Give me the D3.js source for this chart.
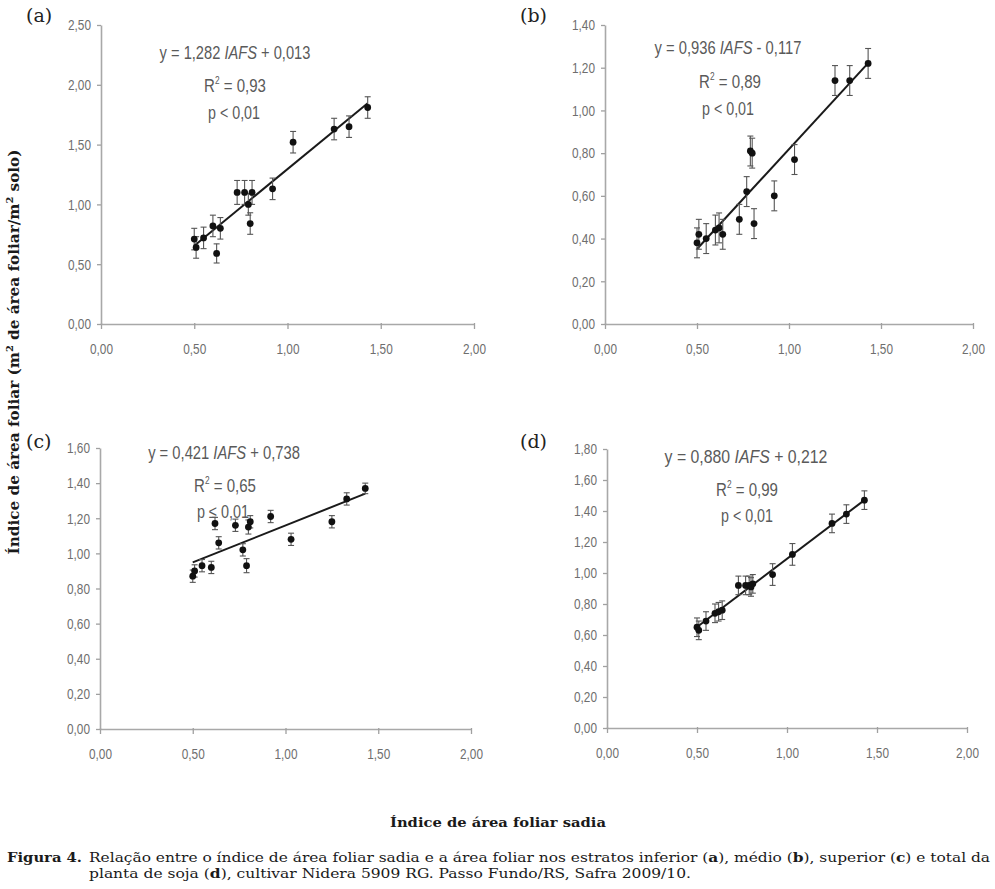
<!DOCTYPE html>
<html>
<head>
<meta charset="utf-8">
<script src="https://cdn.jsdelivr.net/npm/d3@7"></script>
<style>
  body { margin: 0; background: #fff; }
  svg { display: block; }
</style>
</head>
<body>
<svg id="chart" width="995" height="889"></svg>
<script>
// ---------- data ----------
const iafs = [0.50, 0.51, 0.55, 0.60, 0.62, 0.64, 0.73, 0.77, 0.79, 0.80, 0.81, 0.92, 1.03, 1.25, 1.33, 1.43];

const yA = [0.71, 0.64, 0.72, 0.82, 0.59, 0.80, 1.10, 1.10, 1.00, 0.84, 1.10, 1.13, 1.52, 1.63, 1.65, 1.81];
const errA = [0.09, 0.09, 0.09, 0.09, 0.08, 0.09, 0.10, 0.10, 0.09, 0.09, 0.10, 0.09, 0.09, 0.09, 0.09, 0.09];

const yB = [0.38, 0.42, 0.40, 0.44, 0.45, 0.42, 0.49, 0.62, 0.81, 0.80, 0.47, 0.60, 0.77, 1.14, 1.14, 1.22];
const errB = [0.07, 0.07, 0.07, 0.07, 0.07, 0.07, 0.07, 0.07, 0.07, 0.07, 0.07, 0.07, 0.07, 0.07, 0.07, 0.07];

const yC = [0.87, 0.90, 0.93, 0.92, 1.17, 1.06, 1.16, 1.02, 0.93, 1.15, 1.18, 1.21, 1.08, 1.18, 1.31, 1.37];
const errC = [0.035, 0.035, 0.035, 0.035, 0.035, 0.035, 0.035, 0.035, 0.04, 0.04, 0.035, 0.035, 0.035, 0.035, 0.035, 0.03];

const yD = [0.65, 0.63, 0.69, 0.74, 0.75, 0.76, 0.92, 0.92, 0.92, 0.91, 0.93, 0.99, 1.12, 1.32, 1.38, 1.47];
const errD = [0.06, 0.06, 0.06, 0.06, 0.06, 0.06, 0.06, 0.06, 0.06, 0.06, 0.06, 0.07, 0.07, 0.06, 0.06, 0.06];

const xTicks = [0, 0.5, 1.0, 1.5, 2.0];
const yTicksA = [0, 0.5, 1.0, 1.5, 2.0, 2.5];
const yTicksB = [0, 0.2, 0.4, 0.6, 0.8, 1.0, 1.2, 1.4];
const yTicksC = [0, 0.2, 0.4, 0.6, 0.8, 1.0, 1.2, 1.4, 1.6];
const yTicksD = [0, 0.2, 0.4, 0.6, 0.8, 1.0, 1.2, 1.4, 1.6, 1.8];

const slopes = [1.282, 0.936, 0.421, 0.880];
const intercepts = [0.013, -0.117, 0.738, 0.212];
const eqTexts = ["y = 1,282 ", "y = 0,936 ", "y = 0,421 ", "y = 0,880 "];
const eqTails = [" + 0,013", " - 0,117", " + 0,738", " + 0,212"];
const r2Texts = [" = 0,93", " = 0,89", " = 0,65", " = 0,99"];
const pTexts = ["p < 0,01", "p < 0,01", "p ≤ 0,01", "p < 0,01"];
const panelLabels = ["(a)", "(b)", "(c)", "(d)"];

// ---------- layout ----------
const panels = [
  { x0: 101, x1: 474, y0: 324, y1: 25, ymax: 2.5, yTicks: yTicksA, ys: yA, err: errA,
    lab: [26, 22], eq: [235, 59], eqW: 151, r2: [235, 92], p: [234, 119] },
  { x0: 605, x1: 973, y0: 324, y1: 25, ymax: 1.4, yTicks: yTicksB, ys: yB, err: errB,
    lab: [520, 22], eq: [728, 54], eqW: 147, r2: [730, 88], p: [728, 115] },
  { x0: 100, x1: 471, y0: 729, y1: 448, ymax: 1.6, yTicks: yTicksC, ys: yC, err: errC,
    lab: [26, 448], eq: [224, 459], eqW: 152, r2: [225, 492], p: [223, 518] },
  { x0: 607, x1: 967, y0: 728, y1: 449, ymax: 1.8, yTicks: yTicksD, ys: yD, err: errD,
    lab: [520, 448], eq: [746, 463], eqW: 163, r2: [747, 496], p: [747, 522] }
];

const svg = d3.select("#chart");
const fmt = d => d3.format(".2f")(d).replace(".", ",");
const sans = '"Liberation Sans", Arial, sans-serif';
const serif = '"DejaVu Serif", "Liberation Serif", serif';
const textGrey = "#5a5a5a";

// squeeze a text horizontally to a target width, centred on cx
function squeeze(t, cx, cy, w) {
  const natural = t.node().getComputedTextLength();
  t.attr("text-anchor", "middle")
   .attr("transform", `translate(${cx},${cy}) scale(${w / natural},1)`);
}

panels.forEach((p, i) => {
  const x = d3.scaleLinear().domain([0, 2]).range([p.x0, p.x1]);
  const y = d3.scaleLinear().domain([0, p.ymax]).range([p.y0, p.y1]);
  const g = svg.append("g");

  // axes
  const ax = g.append("g").attr("transform", `translate(0,${p.y0})`)
    .call(d3.axisBottom(x).tickValues(xTicks).tickFormat(fmt).tickSizeInner(5).tickSizeOuter(0).tickPadding(14));
  const ay = g.append("g").attr("transform", `translate(${p.x0},0)`)
    .call(d3.axisLeft(y).tickValues(p.yTicks).tickFormat(fmt).tickSizeInner(4).tickSizeOuter(0).tickPadding(6));
  [ax, ay].forEach(a => {
    a.select(".domain").attr("stroke", "#a8a8a8").attr("stroke-width", 1.6);
    a.selectAll(".tick line").attr("stroke", "#a0a0a0").attr("stroke-width", 1.3);
    a.selectAll(".tick text").attr("font-family", sans).attr("fill", "#6e6e6e").attr("font-size", 15)
      .attr("textLength", 23).attr("lengthAdjust", "spacingAndGlyphs");
  });
  ax.selectAll(".tick line").attr("y1", -1);

  // regression line
  const xmin = d3.min(iafs), xmax = d3.max(iafs);
  g.append("line")
    .attr("x1", x(xmin)).attr("y1", y(slopes[i] * xmin + intercepts[i]))
    .attr("x2", x(xmax)).attr("y2", y(slopes[i] * xmax + intercepts[i]))
    .attr("stroke", "#1a1a1a").attr("stroke-width", 2);

  // error bars
  const eb = g.append("g").attr("stroke", "#555").attr("stroke-width", 1.1);
  iafs.forEach((xv, k) => {
    const yv = p.ys[k], e = p.err[k];
    eb.append("line").attr("x1", x(xv)).attr("x2", x(xv)).attr("y1", y(yv - e)).attr("y2", y(yv + e));
    eb.append("line").attr("x1", x(xv) - 3).attr("x2", x(xv) + 3).attr("y1", y(yv - e)).attr("y2", y(yv - e));
    eb.append("line").attr("x1", x(xv) - 3).attr("x2", x(xv) + 3).attr("y1", y(yv + e)).attr("y2", y(yv + e));
  });

  // points
  g.selectAll("circle.pt").data(iafs).join("circle")
    .attr("cx", d => x(d)).attr("cy", (d, k) => y(p.ys[k]))
    .attr("r", 3.4).attr("fill", "#111");

  // panel label
  g.append("text").attr("x", p.lab[0]).attr("y", p.lab[1])
    .attr("font-family", serif).attr("font-size", 19).attr("fill", "#222")
    .text(panelLabels[i]);

  // equation
  const eq = g.append("text")
    .attr("font-family", sans).attr("font-size", 18).attr("fill", textGrey);
  eq.append("tspan").text(eqTexts[i]);
  eq.append("tspan").attr("font-style", "italic").text("IAFS");
  eq.append("tspan").text(eqTails[i]);
  squeeze(eq, p.eq[0], p.eq[1], p.eqW);

  const r2 = g.append("text")
    .attr("font-family", sans).attr("font-size", 18).attr("fill", textGrey);
  r2.append("tspan").text("R");
  r2.append("tspan").attr("font-size", 10).attr("dy", -8).text("2");
  r2.append("tspan").attr("dy", 8).text(r2Texts[i]);
  squeeze(r2, p.r2[0], p.r2[1], 62);

  const pt = g.append("text")
    .attr("font-family", sans).attr("font-size", 18).attr("fill", textGrey)
    .text(pTexts[i]);
  squeeze(pt, p.p[0], p.p[1], 52);
});

// y axis title
const yt = svg.append("text")
  .attr("transform", "translate(19,352) rotate(-90)")
  .attr("text-anchor", "middle")
  .attr("font-family", serif).attr("font-weight", "bold").attr("font-size", 14).attr("fill", "#1a1a1a")
  .attr("textLength", 405).attr("lengthAdjust", "spacingAndGlyphs");
yt.append("tspan").text("Índice de área foliar (m");
yt.append("tspan").attr("font-size", 9).attr("dy", -6).text("2");
yt.append("tspan").attr("dy", 6).text(" de área foliar/m");
yt.append("tspan").attr("font-size", 9).attr("dy", -6).text("2");
yt.append("tspan").attr("dy", 6).text(" solo)");

// x axis title
svg.append("text").attr("x", 390).attr("y", 827)
  .attr("font-family", serif).attr("font-weight", "bold").attr("font-size", 13).attr("fill", "#1a1a1a")
  .attr("textLength", 216).attr("lengthAdjust", "spacingAndGlyphs")
  .text("Índice de área foliar sadia");

// caption
svg.append("text").attr("x", 7).attr("y", 862)
  .attr("font-family", serif).attr("font-weight", "bold").attr("font-size", 13).attr("fill", "#1a1a1a")
  .attr("textLength", 75).attr("lengthAdjust", "spacingAndGlyphs")
  .text("Figura 4.");

const c1 = svg.append("text").attr("x", 89).attr("y", 862)
  .attr("font-family", serif).attr("font-size", 13).attr("fill", "#1a1a1a")
  .attr("textLength", 901).attr("lengthAdjust", "spacingAndGlyphs");
c1.append("tspan").text("Relação entre o índice de área foliar sadia e a área foliar nos estratos inferior (");
c1.append("tspan").attr("font-weight", "bold").text("a");
c1.append("tspan").text("), médio (");
c1.append("tspan").attr("font-weight", "bold").text("b");
c1.append("tspan").text("), superior (");
c1.append("tspan").attr("font-weight", "bold").text("c");
c1.append("tspan").text(") e total da");

const c2 = svg.append("text").attr("x", 89).attr("y", 878)
  .attr("font-family", serif).attr("font-size", 13).attr("fill", "#1a1a1a")
  .attr("textLength", 602).attr("lengthAdjust", "spacingAndGlyphs");
c2.append("tspan").text("planta de soja (");
c2.append("tspan").attr("font-weight", "bold").text("d");
c2.append("tspan").text("), cultivar Nidera 5909 RG. Passo Fundo/RS, Safra 2009/10.");
</script>
</body>
</html>
